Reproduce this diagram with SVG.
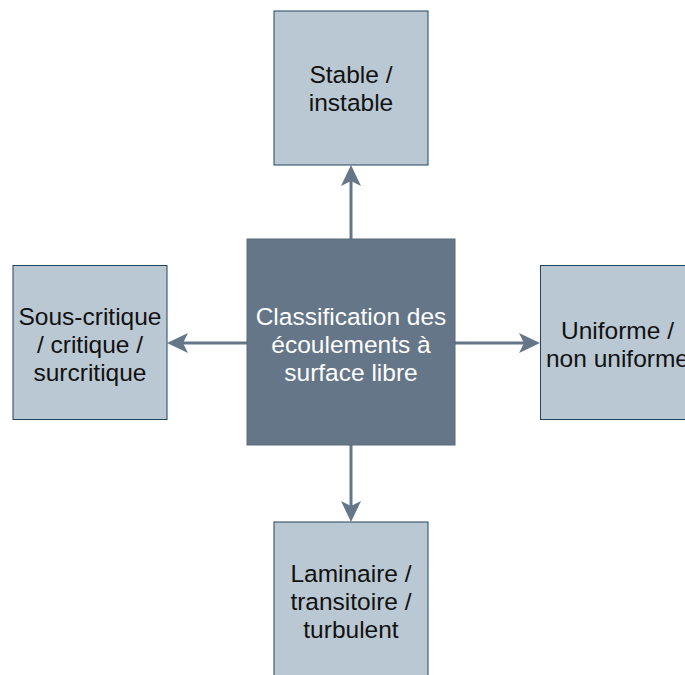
<svg xmlns="http://www.w3.org/2000/svg" width="685" height="675" viewBox="0 0 685 675">
  <style>
    .side { fill: #bac8d3; stroke: #23445d; stroke-width: 1; }
    .main { fill: #647687; stroke: #5a6a7a; stroke-width: 1; }
    .lbl { font-family: "Liberation Sans", Arial, Helvetica, sans-serif; font-size: 24.5px; text-anchor: middle; fill: #111111; }
    .lblw { fill: #ffffff; }
    .conn { stroke: #647687; stroke-width: 3; fill: none; }
  </style>
  <defs>
    <marker id="arrow" viewBox="0 0 21 20" refX="5" refY="10" markerWidth="21" markerHeight="20" markerUnits="userSpaceOnUse" orient="auto">
      <path d="M0,0 L21,10 L0,20 L5,10 Z" fill="#647687"/>
    </marker>
  </defs>
  <rect width="685" height="675" fill="#ffffff"/>

  <g id="connectors">
    <line class="conn" x1="351" y1="239" x2="351" y2="181" marker-end="url(#arrow)"/>
    <line class="conn" x1="351" y1="445" x2="351" y2="506" marker-end="url(#arrow)"/>
    <line class="conn" x1="247" y1="343" x2="183" y2="343" marker-end="url(#arrow)"/>
    <line class="conn" x1="455" y1="343" x2="524" y2="343" marker-end="url(#arrow)"/>
  </g>

  <g id="node-stable">
    <rect class="side" x="274" y="11" width="154" height="154"/>
    <text class="lbl" x="351" y="83">Stable /</text>
    <text class="lbl" x="351" y="111">instable</text>
  </g>

  <g id="node-critique">
    <rect class="side" x="13" y="265.5" width="154" height="154"/>
    <text class="lbl" x="90" y="325">Sous-critique</text>
    <text class="lbl" x="90" y="353">/ critique /</text>
    <text class="lbl" x="90" y="381">surcritique</text>
  </g>

  <g id="node-uniforme">
    <rect class="side" x="540.5" y="265.5" width="154" height="154"/>
    <text class="lbl" x="617.5" y="339">Uniforme /</text>
    <text class="lbl" x="617.5" y="367">non uniforme</text>
  </g>

  <g id="node-laminaire">
    <rect class="side" x="274" y="522" width="154" height="154"/>
    <text class="lbl" x="351" y="582">Laminaire /</text>
    <text class="lbl" x="351" y="610">transitoire /</text>
    <text class="lbl" x="351" y="638">turbulent</text>
  </g>

  <g id="node-classification">
    <rect class="main" x="247" y="239" width="208" height="206"/>
    <text class="lbl lblw" x="351" y="325">Classification des</text>
    <text class="lbl lblw" x="351" y="353">écoulements à</text>
    <text class="lbl lblw" x="351" y="381">surface libre</text>
  </g>
</svg>
